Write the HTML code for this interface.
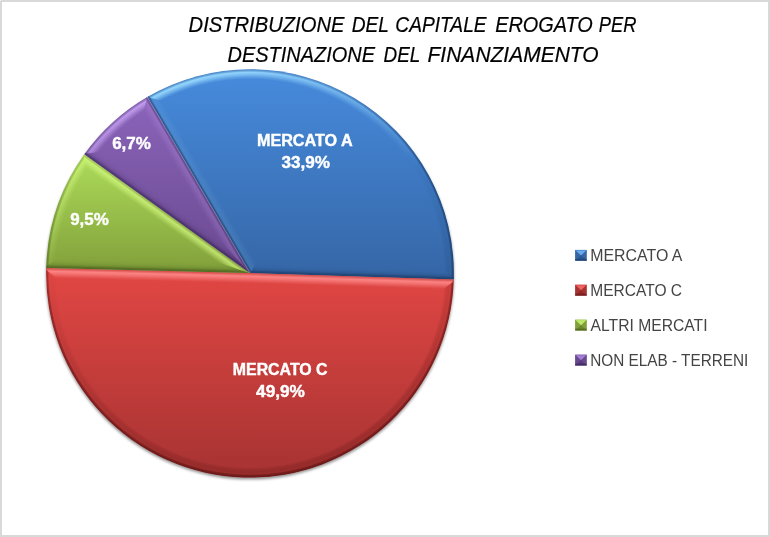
<!DOCTYPE html>
<html lang="it"><head><meta charset="utf-8"><title>Distribuzione del capitale erogato</title>
<style>html,body{margin:0;padding:0;background:#fff}svg{display:block}text{font-family:"Liberation Sans",sans-serif}</style></head><body>
<svg width="770" height="537" viewBox="0 0 770 537">
<defs>
<linearGradient id="mhi-g" gradientUnits="userSpaceOnUse" x1="188.84" y1="78.63" x2="311.15" y2="467.57">
<stop offset="0.0000" stop-color="#fff" stop-opacity="1.000"/>
<stop offset="0.0417" stop-color="#fff" stop-opacity="0.868"/>
<stop offset="0.0833" stop-color="#fff" stop-opacity="0.740"/>
<stop offset="0.1250" stop-color="#fff" stop-opacity="0.615"/>
<stop offset="0.1667" stop-color="#fff" stop-opacity="0.494"/>
<stop offset="0.2083" stop-color="#fff" stop-opacity="0.378"/>
<stop offset="0.2500" stop-color="#fff" stop-opacity="0.268"/>
<stop offset="0.2917" stop-color="#fff" stop-opacity="0.164"/>
<stop offset="0.3333" stop-color="#fff" stop-opacity="0.072"/>
<stop offset="0.3750" stop-color="#fff" stop-opacity="0.000"/>
<stop offset="0.4167" stop-color="#fff" stop-opacity="0.000"/>
<stop offset="0.4583" stop-color="#fff" stop-opacity="0.000"/>
<stop offset="0.5000" stop-color="#fff" stop-opacity="0.000"/>
<stop offset="0.5417" stop-color="#fff" stop-opacity="0.000"/>
<stop offset="0.5833" stop-color="#fff" stop-opacity="0.000"/>
<stop offset="0.6250" stop-color="#fff" stop-opacity="0.000"/>
<stop offset="0.6667" stop-color="#fff" stop-opacity="0.000"/>
<stop offset="0.7083" stop-color="#fff" stop-opacity="0.000"/>
<stop offset="0.7500" stop-color="#fff" stop-opacity="0.000"/>
<stop offset="0.7917" stop-color="#fff" stop-opacity="0.000"/>
<stop offset="0.8333" stop-color="#fff" stop-opacity="0.000"/>
<stop offset="0.8750" stop-color="#fff" stop-opacity="0.000"/>
<stop offset="0.9167" stop-color="#fff" stop-opacity="0.000"/>
<stop offset="0.9583" stop-color="#fff" stop-opacity="0.000"/>
<stop offset="1.0000" stop-color="#fff" stop-opacity="0.000"/>
</linearGradient>
<mask id="mhi" maskUnits="userSpaceOnUse" x="0" y="0" width="770" height="537"><rect x="0" y="0" width="770" height="537" fill="url(#mhi-g)"/></mask>
<linearGradient id="mlo-g" gradientUnits="userSpaceOnUse" x1="188.84" y1="78.63" x2="311.15" y2="467.57">
<stop offset="0.0000" stop-color="#fff" stop-opacity="0.000"/>
<stop offset="0.0417" stop-color="#fff" stop-opacity="0.000"/>
<stop offset="0.0833" stop-color="#fff" stop-opacity="0.000"/>
<stop offset="0.1250" stop-color="#fff" stop-opacity="0.000"/>
<stop offset="0.1667" stop-color="#fff" stop-opacity="0.000"/>
<stop offset="0.2083" stop-color="#fff" stop-opacity="0.000"/>
<stop offset="0.2500" stop-color="#fff" stop-opacity="0.000"/>
<stop offset="0.2917" stop-color="#fff" stop-opacity="0.000"/>
<stop offset="0.3333" stop-color="#fff" stop-opacity="0.000"/>
<stop offset="0.3750" stop-color="#fff" stop-opacity="0.076"/>
<stop offset="0.4167" stop-color="#fff" stop-opacity="0.167"/>
<stop offset="0.4583" stop-color="#fff" stop-opacity="0.246"/>
<stop offset="0.5000" stop-color="#fff" stop-opacity="0.319"/>
<stop offset="0.5417" stop-color="#fff" stop-opacity="0.388"/>
<stop offset="0.5833" stop-color="#fff" stop-opacity="0.455"/>
<stop offset="0.6250" stop-color="#fff" stop-opacity="0.519"/>
<stop offset="0.6667" stop-color="#fff" stop-opacity="0.580"/>
<stop offset="0.7083" stop-color="#fff" stop-opacity="0.641"/>
<stop offset="0.7500" stop-color="#fff" stop-opacity="0.700"/>
<stop offset="0.7917" stop-color="#fff" stop-opacity="0.757"/>
<stop offset="0.8333" stop-color="#fff" stop-opacity="0.814"/>
<stop offset="0.8750" stop-color="#fff" stop-opacity="0.870"/>
<stop offset="0.9167" stop-color="#fff" stop-opacity="0.925"/>
<stop offset="0.9583" stop-color="#fff" stop-opacity="0.979"/>
<stop offset="1.0000" stop-color="#fff" stop-opacity="1.000"/>
</linearGradient>
<mask id="mlo" maskUnits="userSpaceOnUse" x="0" y="0" width="770" height="537"><rect x="0" y="0" width="770" height="537" fill="url(#mlo-g)"/></mask>
<linearGradient id="mrim-g" gradientUnits="userSpaceOnUse" x1="188.84" y1="78.63" x2="311.15" y2="467.57">
<stop offset="0.0000" stop-color="#fff" stop-opacity="0.350"/>
<stop offset="0.0417" stop-color="#fff" stop-opacity="0.350"/>
<stop offset="0.0833" stop-color="#fff" stop-opacity="0.350"/>
<stop offset="0.1250" stop-color="#fff" stop-opacity="0.350"/>
<stop offset="0.1667" stop-color="#fff" stop-opacity="0.440"/>
<stop offset="0.2083" stop-color="#fff" stop-opacity="0.531"/>
<stop offset="0.2500" stop-color="#fff" stop-opacity="0.621"/>
<stop offset="0.2917" stop-color="#fff" stop-opacity="0.711"/>
<stop offset="0.3333" stop-color="#fff" stop-opacity="0.801"/>
<stop offset="0.3750" stop-color="#fff" stop-opacity="0.892"/>
<stop offset="0.4167" stop-color="#fff" stop-opacity="0.982"/>
<stop offset="0.4583" stop-color="#fff" stop-opacity="1.000"/>
<stop offset="0.5000" stop-color="#fff" stop-opacity="1.000"/>
<stop offset="0.5417" stop-color="#fff" stop-opacity="1.000"/>
<stop offset="0.5833" stop-color="#fff" stop-opacity="1.000"/>
<stop offset="0.6250" stop-color="#fff" stop-opacity="1.000"/>
<stop offset="0.6667" stop-color="#fff" stop-opacity="1.000"/>
<stop offset="0.7083" stop-color="#fff" stop-opacity="1.000"/>
<stop offset="0.7500" stop-color="#fff" stop-opacity="1.000"/>
<stop offset="0.7917" stop-color="#fff" stop-opacity="1.000"/>
<stop offset="0.8333" stop-color="#fff" stop-opacity="1.000"/>
<stop offset="0.8750" stop-color="#fff" stop-opacity="1.000"/>
<stop offset="0.9167" stop-color="#fff" stop-opacity="1.000"/>
<stop offset="0.9583" stop-color="#fff" stop-opacity="1.000"/>
<stop offset="1.0000" stop-color="#fff" stop-opacity="1.000"/>
</linearGradient>
<mask id="mrim" maskUnits="userSpaceOnUse" x="0" y="0" width="770" height="537"><rect x="0" y="0" width="770" height="537" fill="url(#mrim-g)"/></mask>
<linearGradient id="g-blue" gradientUnits="userSpaceOnUse" x1="0" y1="69.3" x2="0" y2="279.5"><stop offset="0" stop-color="#478bdd"/><stop offset="1" stop-color="#3566a6"/></linearGradient>
<clipPath id="c-blue"><path d="M250.00,273.10L147.31,97.01A203.85,203.85 0 0 1 453.75,279.47Z"/></clipPath>
<radialGradient id="ph-blue" gradientUnits="userSpaceOnUse" cx="250.00" cy="273.10" r="203.85">
<stop offset="0" stop-color="#9adcff" stop-opacity="0"/>
<stop offset="0.95094" stop-color="#9adcff" stop-opacity="0.000"/>
<stop offset="0.96076" stop-color="#9adcff" stop-opacity="0.266"/>
<stop offset="0.97302" stop-color="#9adcff" stop-opacity="0.665"/>
<stop offset="0.98430" stop-color="#9adcff" stop-opacity="0.950"/>
<stop offset="0.99313" stop-color="#9adcff" stop-opacity="0.570"/>
<stop offset="1.00000" stop-color="#9adcff" stop-opacity="0.076"/>
</radialGradient>
<radialGradient id="pl-blue" gradientUnits="userSpaceOnUse" cx="250.00" cy="273.10" r="203.85">
<stop offset="0" stop-color="#16355f" stop-opacity="0"/>
<stop offset="0.95094" stop-color="#16355f" stop-opacity="0.000"/>
<stop offset="0.95340" stop-color="#16355f" stop-opacity="0.000"/>
<stop offset="0.96321" stop-color="#16355f" stop-opacity="0.190"/>
<stop offset="0.97547" stop-color="#16355f" stop-opacity="0.280"/>
<stop offset="0.98725" stop-color="#16355f" stop-opacity="0.202"/>
<stop offset="0.99411" stop-color="#16355f" stop-opacity="0.392"/>
<stop offset="1.00000" stop-color="#16355f" stop-opacity="0.560"/>
</radialGradient>
<radialGradient id="pr-blue" gradientUnits="userSpaceOnUse" cx="250.00" cy="273.10" r="203.85">
<stop offset="0" stop-color="#16355f" stop-opacity="0"/>
<stop offset="0.95094" stop-color="#16355f" stop-opacity="0.000"/>
<stop offset="0.98626" stop-color="#16355f" stop-opacity="0.000"/>
<stop offset="0.99215" stop-color="#16355f" stop-opacity="0.468"/>
<stop offset="1.00000" stop-color="#16355f" stop-opacity="0.550"/>
</radialGradient>
<clipPath id="ca-blue"><path d="M147.31,97.01A203.85,203.85 0 0 1 453.75,279.47L441.16,266.07A191.29,191.29 0 0 0 165.08,101.69Z"/></clipPath>
<linearGradient id="g-red" gradientUnits="userSpaceOnUse" x1="0" y1="268.0" x2="0" y2="477.0"><stop offset="0" stop-color="#e24744"/><stop offset="1" stop-color="#a63332"/></linearGradient>
<clipPath id="c-red"><path d="M250.00,273.10L453.75,279.47A203.85,203.85 0 0 1 46.21,268.01Z"/></clipPath>
<radialGradient id="ph-red" gradientUnits="userSpaceOnUse" cx="250.00" cy="273.10" r="203.85">
<stop offset="0" stop-color="#ff8c8c" stop-opacity="0"/>
<stop offset="0.95094" stop-color="#ff8c8c" stop-opacity="0.000"/>
<stop offset="0.96076" stop-color="#ff8c8c" stop-opacity="0.266"/>
<stop offset="0.97302" stop-color="#ff8c8c" stop-opacity="0.665"/>
<stop offset="0.98430" stop-color="#ff8c8c" stop-opacity="0.950"/>
<stop offset="0.99313" stop-color="#ff8c8c" stop-opacity="0.570"/>
<stop offset="1.00000" stop-color="#ff8c8c" stop-opacity="0.076"/>
</radialGradient>
<radialGradient id="pl-red" gradientUnits="userSpaceOnUse" cx="250.00" cy="273.10" r="203.85">
<stop offset="0" stop-color="#5e1414" stop-opacity="0"/>
<stop offset="0.95094" stop-color="#5e1414" stop-opacity="0.000"/>
<stop offset="0.95340" stop-color="#5e1414" stop-opacity="0.000"/>
<stop offset="0.96321" stop-color="#5e1414" stop-opacity="0.190"/>
<stop offset="0.97547" stop-color="#5e1414" stop-opacity="0.280"/>
<stop offset="0.98725" stop-color="#5e1414" stop-opacity="0.202"/>
<stop offset="0.99411" stop-color="#5e1414" stop-opacity="0.392"/>
<stop offset="1.00000" stop-color="#5e1414" stop-opacity="0.560"/>
</radialGradient>
<radialGradient id="pr-red" gradientUnits="userSpaceOnUse" cx="250.00" cy="273.10" r="203.85">
<stop offset="0" stop-color="#5e1414" stop-opacity="0"/>
<stop offset="0.95094" stop-color="#5e1414" stop-opacity="0.000"/>
<stop offset="0.98626" stop-color="#5e1414" stop-opacity="0.000"/>
<stop offset="0.99215" stop-color="#5e1414" stop-opacity="0.468"/>
<stop offset="1.00000" stop-color="#5e1414" stop-opacity="0.550"/>
</radialGradient>
<clipPath id="ca-red"><path d="M453.75,279.47A203.85,203.85 0 0 1 46.21,268.01L58.89,281.33A191.29,191.29 0 0 0 440.35,292.06Z"/></clipPath>
<linearGradient id="g-green" gradientUnits="userSpaceOnUse" x1="0" y1="154.3" x2="0" y2="273.1"><stop offset="0" stop-color="#addd5a"/><stop offset="1" stop-color="#819f3a"/></linearGradient>
<clipPath id="c-green"><path d="M250.00,273.10L46.21,268.01A203.85,203.85 0 0 1 84.31,154.35Z"/></clipPath>
<radialGradient id="ph-green" gradientUnits="userSpaceOnUse" cx="250.00" cy="273.10" r="203.85">
<stop offset="0" stop-color="#d4f880" stop-opacity="0"/>
<stop offset="0.95094" stop-color="#d4f880" stop-opacity="0.000"/>
<stop offset="0.96076" stop-color="#d4f880" stop-opacity="0.266"/>
<stop offset="0.97302" stop-color="#d4f880" stop-opacity="0.665"/>
<stop offset="0.98430" stop-color="#d4f880" stop-opacity="0.950"/>
<stop offset="0.99313" stop-color="#d4f880" stop-opacity="0.570"/>
<stop offset="1.00000" stop-color="#d4f880" stop-opacity="0.076"/>
</radialGradient>
<radialGradient id="pl-green" gradientUnits="userSpaceOnUse" cx="250.00" cy="273.10" r="203.85">
<stop offset="0" stop-color="#3d5216" stop-opacity="0"/>
<stop offset="0.95094" stop-color="#3d5216" stop-opacity="0.000"/>
<stop offset="0.95340" stop-color="#3d5216" stop-opacity="0.000"/>
<stop offset="0.96321" stop-color="#3d5216" stop-opacity="0.190"/>
<stop offset="0.97547" stop-color="#3d5216" stop-opacity="0.280"/>
<stop offset="0.98725" stop-color="#3d5216" stop-opacity="0.202"/>
<stop offset="0.99411" stop-color="#3d5216" stop-opacity="0.392"/>
<stop offset="1.00000" stop-color="#3d5216" stop-opacity="0.560"/>
</radialGradient>
<radialGradient id="pr-green" gradientUnits="userSpaceOnUse" cx="250.00" cy="273.10" r="203.85">
<stop offset="0" stop-color="#3d5216" stop-opacity="0"/>
<stop offset="0.95094" stop-color="#3d5216" stop-opacity="0.000"/>
<stop offset="0.98626" stop-color="#3d5216" stop-opacity="0.000"/>
<stop offset="0.99215" stop-color="#3d5216" stop-opacity="0.468"/>
<stop offset="1.00000" stop-color="#3d5216" stop-opacity="0.550"/>
</radialGradient>
<clipPath id="ca-green"><path d="M46.21,268.01A203.85,203.85 0 0 1 84.31,154.35L87.30,172.49A191.29,191.29 0 0 0 59.53,255.34Z"/></clipPath>
<linearGradient id="g-purple" gradientUnits="userSpaceOnUse" x1="0" y1="97.0" x2="0" y2="273.1"><stop offset="0" stop-color="#8b64ba"/><stop offset="1" stop-color="#69498f"/></linearGradient>
<clipPath id="c-purple"><path d="M250.00,273.10L84.31,154.35A203.85,203.85 0 0 1 147.31,97.01Z"/></clipPath>
<radialGradient id="ph-purple" gradientUnits="userSpaceOnUse" cx="250.00" cy="273.10" r="203.85">
<stop offset="0" stop-color="#c9a4f5" stop-opacity="0"/>
<stop offset="0.95094" stop-color="#c9a4f5" stop-opacity="0.000"/>
<stop offset="0.96076" stop-color="#c9a4f5" stop-opacity="0.266"/>
<stop offset="0.97302" stop-color="#c9a4f5" stop-opacity="0.665"/>
<stop offset="0.98430" stop-color="#c9a4f5" stop-opacity="0.950"/>
<stop offset="0.99313" stop-color="#c9a4f5" stop-opacity="0.570"/>
<stop offset="1.00000" stop-color="#c9a4f5" stop-opacity="0.076"/>
</radialGradient>
<radialGradient id="pl-purple" gradientUnits="userSpaceOnUse" cx="250.00" cy="273.10" r="203.85">
<stop offset="0" stop-color="#2f1c4d" stop-opacity="0"/>
<stop offset="0.95094" stop-color="#2f1c4d" stop-opacity="0.000"/>
<stop offset="0.95340" stop-color="#2f1c4d" stop-opacity="0.000"/>
<stop offset="0.96321" stop-color="#2f1c4d" stop-opacity="0.190"/>
<stop offset="0.97547" stop-color="#2f1c4d" stop-opacity="0.280"/>
<stop offset="0.98725" stop-color="#2f1c4d" stop-opacity="0.202"/>
<stop offset="0.99411" stop-color="#2f1c4d" stop-opacity="0.392"/>
<stop offset="1.00000" stop-color="#2f1c4d" stop-opacity="0.560"/>
</radialGradient>
<radialGradient id="pr-purple" gradientUnits="userSpaceOnUse" cx="250.00" cy="273.10" r="203.85">
<stop offset="0" stop-color="#2f1c4d" stop-opacity="0"/>
<stop offset="0.95094" stop-color="#2f1c4d" stop-opacity="0.000"/>
<stop offset="0.98626" stop-color="#2f1c4d" stop-opacity="0.000"/>
<stop offset="0.99215" stop-color="#2f1c4d" stop-opacity="0.468"/>
<stop offset="1.00000" stop-color="#2f1c4d" stop-opacity="0.550"/>
</radialGradient>
<clipPath id="ca-purple"><path d="M84.31,154.35A203.85,203.85 0 0 1 147.31,97.01L142.62,114.79A191.29,191.29 0 0 0 102.45,151.35Z"/></clipPath>
<filter id="sh" x="-10%" y="-10%" width="120%" height="120%"><feGaussianBlur stdDeviation="1.7"/></filter>
</defs>
<rect x="0" y="0" width="770" height="537" fill="#fff"/>
<rect x="1" y="1" width="768" height="535" fill="none" stroke="#d9d9d9" stroke-width="2"/>
<rect x="0" y="0" width="1" height="1" fill="#fff" opacity="0.55"/>
<circle cx="250.0" cy="275.5" r="203.85" fill="#000" opacity="0.46" filter="url(#sh)"/>
<path d="M250.00,273.10L147.31,97.01A203.85,203.85 0 0 1 453.75,279.47Z" fill="url(#g-blue)"/>
<g clip-path="url(#c-blue)">
<g clip-path="url(#ca-blue)">
<g mask="url(#mhi)"><circle cx="250.00" cy="273.10" r="205.85" fill="url(#ph-blue)"/></g>
<g mask="url(#mlo)"><circle cx="250.00" cy="273.10" r="205.85" fill="url(#pl-blue)"/></g>
<g mask="url(#mrim)"><circle cx="250.00" cy="273.10" r="205.85" fill="url(#pr-blue)"/></g>
</g>
<linearGradient id="eh1" gradientUnits="userSpaceOnUse" x1="250.00" y1="273.10" x2="258.64" y2="268.06">
<stop offset="0.000" stop-color="#9adcff" stop-opacity="0.011"/>
<stop offset="0.140" stop-color="#9adcff" stop-opacity="0.080"/>
<stop offset="0.320" stop-color="#9adcff" stop-opacity="0.133"/>
<stop offset="0.550" stop-color="#9adcff" stop-opacity="0.093"/>
<stop offset="0.800" stop-color="#9adcff" stop-opacity="0.037"/>
<stop offset="1.000" stop-color="#9adcff" stop-opacity="0.000"/>
</linearGradient>
<path d="M250.00,273.10L146.30,95.28L161.67,100.79L256.14,262.79Z" fill="url(#eh1)"/>
<linearGradient id="el2" gradientUnits="userSpaceOnUse" x1="250.00" y1="273.10" x2="258.64" y2="268.06">
<stop offset="0.000" stop-color="#16355f" stop-opacity="0.101"/>
<stop offset="0.200" stop-color="#16355f" stop-opacity="0.079"/>
<stop offset="0.400" stop-color="#16355f" stop-opacity="0.032"/>
<stop offset="0.650" stop-color="#16355f" stop-opacity="0.008"/>
<stop offset="1.000" stop-color="#16355f" stop-opacity="0.000"/>
</linearGradient>
<path d="M250.00,273.10L146.30,95.28L161.67,100.79L256.14,262.79Z" fill="url(#el2)"/>
<linearGradient id="er3" gradientUnits="userSpaceOnUse" x1="250.00" y1="273.10" x2="258.64" y2="268.06">
<stop offset="0.000" stop-color="#16355f" stop-opacity="0.495"/>
<stop offset="0.160" stop-color="#16355f" stop-opacity="0.421"/>
<stop offset="0.280" stop-color="#16355f" stop-opacity="0.000"/>
<stop offset="1.000" stop-color="#16355f" stop-opacity="0.000"/>
</linearGradient>
<path d="M250.00,273.10L146.30,95.28L161.67,100.79L256.14,262.79Z" fill="url(#er3)"/>
<linearGradient id="el4" gradientUnits="userSpaceOnUse" x1="250.00" y1="273.10" x2="250.31" y2="263.10">
<stop offset="0.000" stop-color="#16355f" stop-opacity="0.558"/>
<stop offset="0.200" stop-color="#16355f" stop-opacity="0.435"/>
<stop offset="0.400" stop-color="#16355f" stop-opacity="0.179"/>
<stop offset="0.650" stop-color="#16355f" stop-opacity="0.045"/>
<stop offset="1.000" stop-color="#16355f" stop-opacity="0.000"/>
</linearGradient>
<path d="M250.00,273.10L455.75,279.53L443.58,268.64L256.14,262.79Z" fill="url(#el4)"/>
<linearGradient id="er5" gradientUnits="userSpaceOnUse" x1="250.00" y1="273.10" x2="250.31" y2="263.10">
<stop offset="0.000" stop-color="#16355f" stop-opacity="0.275"/>
<stop offset="0.160" stop-color="#16355f" stop-opacity="0.234"/>
<stop offset="0.280" stop-color="#16355f" stop-opacity="0.000"/>
<stop offset="1.000" stop-color="#16355f" stop-opacity="0.000"/>
</linearGradient>
<path d="M250.00,273.10L455.75,279.53L443.58,268.64L256.14,262.79Z" fill="url(#er5)"/>
</g>
<path d="M250.00,273.10L453.75,279.47A203.85,203.85 0 0 1 46.21,268.01Z" fill="url(#g-red)"/>
<g clip-path="url(#c-red)">
<g clip-path="url(#ca-red)">
<g mask="url(#mhi)"><circle cx="250.00" cy="273.10" r="205.85" fill="url(#ph-red)"/></g>
<g mask="url(#mlo)"><circle cx="250.00" cy="273.10" r="205.85" fill="url(#pl-red)"/></g>
<g mask="url(#mrim)"><circle cx="250.00" cy="273.10" r="205.85" fill="url(#pr-red)"/></g>
</g>
<linearGradient id="eh6" gradientUnits="userSpaceOnUse" x1="250.00" y1="273.10" x2="249.69" y2="283.10">
<stop offset="0.000" stop-color="#ff8c8c" stop-opacity="0.069"/>
<stop offset="0.140" stop-color="#ff8c8c" stop-opacity="0.519"/>
<stop offset="0.320" stop-color="#ff8c8c" stop-opacity="0.866"/>
<stop offset="0.550" stop-color="#ff8c8c" stop-opacity="0.606"/>
<stop offset="0.800" stop-color="#ff8c8c" stop-opacity="0.242"/>
<stop offset="1.000" stop-color="#ff8c8c" stop-opacity="0.000"/>
</linearGradient>
<path d="M250.00,273.10L455.75,279.53L442.93,289.63L249.67,283.59Z" fill="url(#eh6)"/>
<linearGradient id="er7" gradientUnits="userSpaceOnUse" x1="250.00" y1="273.10" x2="249.69" y2="283.10">
<stop offset="0.000" stop-color="#5e1414" stop-opacity="0.096"/>
<stop offset="0.160" stop-color="#5e1414" stop-opacity="0.082"/>
<stop offset="0.280" stop-color="#5e1414" stop-opacity="0.000"/>
<stop offset="1.000" stop-color="#5e1414" stop-opacity="0.000"/>
</linearGradient>
<path d="M250.00,273.10L455.75,279.53L442.93,289.63L249.67,283.59Z" fill="url(#er7)"/>
<linearGradient id="eh8" gradientUnits="userSpaceOnUse" x1="250.00" y1="273.10" x2="249.75" y2="283.10">
<stop offset="0.000" stop-color="#ff8c8c" stop-opacity="0.070"/>
<stop offset="0.140" stop-color="#ff8c8c" stop-opacity="0.521"/>
<stop offset="0.320" stop-color="#ff8c8c" stop-opacity="0.869"/>
<stop offset="0.550" stop-color="#ff8c8c" stop-opacity="0.608"/>
<stop offset="0.800" stop-color="#ff8c8c" stop-opacity="0.243"/>
<stop offset="1.000" stop-color="#ff8c8c" stop-opacity="0.000"/>
</linearGradient>
<path d="M250.00,273.10L44.21,267.96L56.45,278.77L249.74,283.60Z" fill="url(#eh8)"/>
<linearGradient id="er9" gradientUnits="userSpaceOnUse" x1="250.00" y1="273.10" x2="249.75" y2="283.10">
<stop offset="0.000" stop-color="#5e1414" stop-opacity="0.096"/>
<stop offset="0.160" stop-color="#5e1414" stop-opacity="0.082"/>
<stop offset="0.280" stop-color="#5e1414" stop-opacity="0.000"/>
<stop offset="1.000" stop-color="#5e1414" stop-opacity="0.000"/>
</linearGradient>
<path d="M250.00,273.10L44.21,267.96L56.45,278.77L249.74,283.60Z" fill="url(#er9)"/>
</g>
<path d="M250.00,273.10L46.21,268.01A203.85,203.85 0 0 1 84.31,154.35Z" fill="url(#g-green)"/>
<g clip-path="url(#c-green)">
<g clip-path="url(#ca-green)">
<g mask="url(#mhi)"><circle cx="250.00" cy="273.10" r="205.85" fill="url(#ph-green)"/></g>
<g mask="url(#mlo)"><circle cx="250.00" cy="273.10" r="205.85" fill="url(#pl-green)"/></g>
<g mask="url(#mrim)"><circle cx="250.00" cy="273.10" r="205.85" fill="url(#pr-green)"/></g>
</g>
<linearGradient id="el10" gradientUnits="userSpaceOnUse" x1="250.00" y1="273.10" x2="250.25" y2="263.10">
<stop offset="0.000" stop-color="#3d5216" stop-opacity="0.559"/>
<stop offset="0.200" stop-color="#3d5216" stop-opacity="0.436"/>
<stop offset="0.400" stop-color="#3d5216" stop-opacity="0.179"/>
<stop offset="0.650" stop-color="#3d5216" stop-opacity="0.045"/>
<stop offset="1.000" stop-color="#3d5216" stop-opacity="0.000"/>
</linearGradient>
<path d="M250.00,273.10L44.21,267.96L56.97,257.78L216.14,261.75Z" fill="url(#el10)"/>
<linearGradient id="er11" gradientUnits="userSpaceOnUse" x1="250.00" y1="273.10" x2="250.25" y2="263.10">
<stop offset="0.000" stop-color="#3d5216" stop-opacity="0.275"/>
<stop offset="0.160" stop-color="#3d5216" stop-opacity="0.234"/>
<stop offset="0.280" stop-color="#3d5216" stop-opacity="0.000"/>
<stop offset="1.000" stop-color="#3d5216" stop-opacity="0.000"/>
</linearGradient>
<path d="M250.00,273.10L44.21,267.96L56.97,257.78L216.14,261.75Z" fill="url(#er11)"/>
<linearGradient id="eh12" gradientUnits="userSpaceOnUse" x1="250.00" y1="273.10" x2="244.17" y2="281.23">
<stop offset="0.000" stop-color="#d4f880" stop-opacity="0.057"/>
<stop offset="0.140" stop-color="#d4f880" stop-opacity="0.427"/>
<stop offset="0.320" stop-color="#d4f880" stop-opacity="0.712"/>
<stop offset="0.550" stop-color="#d4f880" stop-opacity="0.499"/>
<stop offset="0.800" stop-color="#d4f880" stop-opacity="0.200"/>
<stop offset="1.000" stop-color="#d4f880" stop-opacity="0.000"/>
</linearGradient>
<path d="M250.00,273.10L82.69,153.18L86.73,169.00L216.14,261.75Z" fill="url(#eh12)"/>
<linearGradient id="er13" gradientUnits="userSpaceOnUse" x1="250.00" y1="273.10" x2="244.17" y2="281.23">
<stop offset="0.000" stop-color="#3d5216" stop-opacity="0.165"/>
<stop offset="0.160" stop-color="#3d5216" stop-opacity="0.140"/>
<stop offset="0.280" stop-color="#3d5216" stop-opacity="0.000"/>
<stop offset="1.000" stop-color="#3d5216" stop-opacity="0.000"/>
</linearGradient>
<path d="M250.00,273.10L82.69,153.18L86.73,169.00L216.14,261.75Z" fill="url(#er13)"/>
</g>
<path d="M250.00,273.10L84.31,154.35A203.85,203.85 0 0 1 147.31,97.01Z" fill="url(#g-purple)"/>
<g clip-path="url(#c-purple)">
<g clip-path="url(#ca-purple)">
<g mask="url(#mhi)"><circle cx="250.00" cy="273.10" r="205.85" fill="url(#ph-purple)"/></g>
<g mask="url(#mlo)"><circle cx="250.00" cy="273.10" r="205.85" fill="url(#pl-purple)"/></g>
<g mask="url(#mrim)"><circle cx="250.00" cy="273.10" r="205.85" fill="url(#pr-purple)"/></g>
</g>
<linearGradient id="el14" gradientUnits="userSpaceOnUse" x1="250.00" y1="273.10" x2="255.83" y2="264.97">
<stop offset="0.000" stop-color="#2f1c4d" stop-opacity="0.431"/>
<stop offset="0.200" stop-color="#2f1c4d" stop-opacity="0.336"/>
<stop offset="0.400" stop-color="#2f1c4d" stop-opacity="0.138"/>
<stop offset="0.650" stop-color="#2f1c4d" stop-opacity="0.034"/>
<stop offset="1.000" stop-color="#2f1c4d" stop-opacity="0.000"/>
</linearGradient>
<path d="M250.00,273.10L82.69,153.18L98.96,151.93L216.17,235.94Z" fill="url(#el14)"/>
<linearGradient id="er15" gradientUnits="userSpaceOnUse" x1="250.00" y1="273.10" x2="255.83" y2="264.97">
<stop offset="0.000" stop-color="#2f1c4d" stop-opacity="0.275"/>
<stop offset="0.160" stop-color="#2f1c4d" stop-opacity="0.234"/>
<stop offset="0.280" stop-color="#2f1c4d" stop-opacity="0.000"/>
<stop offset="1.000" stop-color="#2f1c4d" stop-opacity="0.000"/>
</linearGradient>
<path d="M250.00,273.10L82.69,153.18L98.96,151.93L216.17,235.94Z" fill="url(#er15)"/>
<linearGradient id="eh16" gradientUnits="userSpaceOnUse" x1="250.00" y1="273.10" x2="241.36" y2="278.14">
<stop offset="0.000" stop-color="#c9a4f5" stop-opacity="0.017"/>
<stop offset="0.140" stop-color="#c9a4f5" stop-opacity="0.125"/>
<stop offset="0.320" stop-color="#c9a4f5" stop-opacity="0.209"/>
<stop offset="0.550" stop-color="#c9a4f5" stop-opacity="0.146"/>
<stop offset="0.800" stop-color="#c9a4f5" stop-opacity="0.059"/>
<stop offset="1.000" stop-color="#c9a4f5" stop-opacity="0.000"/>
</linearGradient>
<path d="M250.00,273.10L146.30,95.28L143.53,111.37L216.17,235.94Z" fill="url(#eh16)"/>
<linearGradient id="er17" gradientUnits="userSpaceOnUse" x1="250.00" y1="273.10" x2="241.36" y2="278.14">
<stop offset="0.000" stop-color="#2f1c4d" stop-opacity="0.330"/>
<stop offset="0.160" stop-color="#2f1c4d" stop-opacity="0.281"/>
<stop offset="0.280" stop-color="#2f1c4d" stop-opacity="0.000"/>
<stop offset="1.000" stop-color="#2f1c4d" stop-opacity="0.000"/>
</linearGradient>
<path d="M250.00,273.10L146.30,95.28L143.53,111.37L216.17,235.94Z" fill="url(#er17)"/>
</g>
<line x1="250.00" y1="273.10" x2="147.31" y2="97.01" stroke="#e0e0e0" stroke-width="0.8" opacity="0.3"/>
<text x="256.95" y="145.8" font-weight="bold" font-size="16" fill="#fff" stroke="#fff" stroke-width="0.4" textLength="95.80" lengthAdjust="spacingAndGlyphs">MERCATO A</text>
<text x="281.40" y="168.4" font-weight="bold" font-size="16" fill="#fff" stroke="#fff" stroke-width="0.4" textLength="48.50" lengthAdjust="spacingAndGlyphs">33,9%</text>
<text x="232.80" y="374.7" font-weight="bold" font-size="16" fill="#fff" stroke="#fff" stroke-width="0.4" textLength="94.75" lengthAdjust="spacingAndGlyphs">MERCATO C</text>
<text x="256.05" y="397.3" font-weight="bold" font-size="16" fill="#fff" stroke="#fff" stroke-width="0.4" textLength="48.85" lengthAdjust="spacingAndGlyphs">49,9%</text>
<text x="112.15" y="148.7" font-weight="bold" font-size="16" fill="#fff" stroke="#fff" stroke-width="0.4" textLength="38.75" lengthAdjust="spacingAndGlyphs">6,7%</text>
<text x="70.15" y="224.7" font-weight="bold" font-size="16" fill="#fff" stroke="#fff" stroke-width="0.4" textLength="38.60" lengthAdjust="spacingAndGlyphs">9,5%</text>
<text y="31.9" font-style="italic" font-size="22" fill="#000" stroke="#000" stroke-width="0.2"><tspan x="188.55" textLength="155.90" lengthAdjust="spacingAndGlyphs">DISTRIBUZIONE</tspan> <tspan x="351.65" textLength="36.90" lengthAdjust="spacingAndGlyphs">DEL</tspan> <tspan x="395.35" textLength="91.25" lengthAdjust="spacingAndGlyphs">CAPITALE</tspan> <tspan x="495.20" textLength="97.60" lengthAdjust="spacingAndGlyphs">EROGATO</tspan> <tspan x="598.80" textLength="37.55" lengthAdjust="spacingAndGlyphs">PER</tspan></text>
<text y="61.9" font-style="italic" font-size="22" fill="#000" stroke="#000" stroke-width="0.2"><tspan x="227.55" textLength="147.55" lengthAdjust="spacingAndGlyphs">DESTINAZIONE</tspan> <tspan x="383.50" textLength="36.45" lengthAdjust="spacingAndGlyphs">DEL</tspan> <tspan x="427.55" textLength="171.10" lengthAdjust="spacingAndGlyphs">FINANZIAMENTO</tspan></text>
<rect x="575.1" y="249.9" width="11.7" height="10.9" fill="#3566a6"/>
<path d="M575.1,249.9h11.7l-5.85,5.5z" fill="#478bdd"/>
<path d="M576.1,250.7h9.7l-4.85,4.5z" fill="#9adcff" opacity="0.42"/>
<path d="M575.1,260.8h11.7l-5.85,-5.5z" fill="#16355f" opacity="0.3"/>
<rect x="575.1" y="258.8" width="11.7" height="2" fill="#16355f" opacity="0.45"/>
<text x="590.25" y="260.8" font-size="16.5" fill="#444" textLength="92.25" lengthAdjust="spacingAndGlyphs">MERCATO A</text>
<rect x="575.1" y="284.8" width="11.7" height="10.9" fill="#a63332"/>
<path d="M575.1,284.8h11.7l-5.85,5.5z" fill="#e24744"/>
<path d="M576.1,285.6h9.7l-4.85,4.5z" fill="#ff8c8c" opacity="0.42"/>
<path d="M575.1,295.7h11.7l-5.85,-5.5z" fill="#5e1414" opacity="0.3"/>
<rect x="575.1" y="293.7" width="11.7" height="2" fill="#5e1414" opacity="0.45"/>
<text x="590.25" y="295.7" font-size="16.5" fill="#444" textLength="91.85" lengthAdjust="spacingAndGlyphs">MERCATO C</text>
<rect x="575.1" y="319.7" width="11.7" height="10.9" fill="#819f3a"/>
<path d="M575.1,319.7h11.7l-5.85,5.5z" fill="#addd5a"/>
<path d="M576.1,320.5h9.7l-4.85,4.5z" fill="#d4f880" opacity="0.42"/>
<path d="M575.1,330.6h11.7l-5.85,-5.5z" fill="#3d5216" opacity="0.3"/>
<rect x="575.1" y="328.6" width="11.7" height="2" fill="#3d5216" opacity="0.45"/>
<text x="590.55" y="330.6" font-size="16.5" fill="#444" textLength="117.00" lengthAdjust="spacingAndGlyphs">ALTRI MERCATI</text>
<rect x="575.1" y="354.7" width="11.7" height="10.9" fill="#69498f"/>
<path d="M575.1,354.7h11.7l-5.85,5.5z" fill="#8b64ba"/>
<path d="M576.1,355.5h9.7l-4.85,4.5z" fill="#c9a4f5" opacity="0.42"/>
<path d="M575.1,365.6h11.7l-5.85,-5.5z" fill="#2f1c4d" opacity="0.3"/>
<rect x="575.1" y="363.6" width="11.7" height="2" fill="#2f1c4d" opacity="0.45"/>
<text x="590.25" y="365.6" font-size="16.5" fill="#444" textLength="158.10" lengthAdjust="spacingAndGlyphs">NON ELAB - TERRENI</text>
</svg></body></html>
